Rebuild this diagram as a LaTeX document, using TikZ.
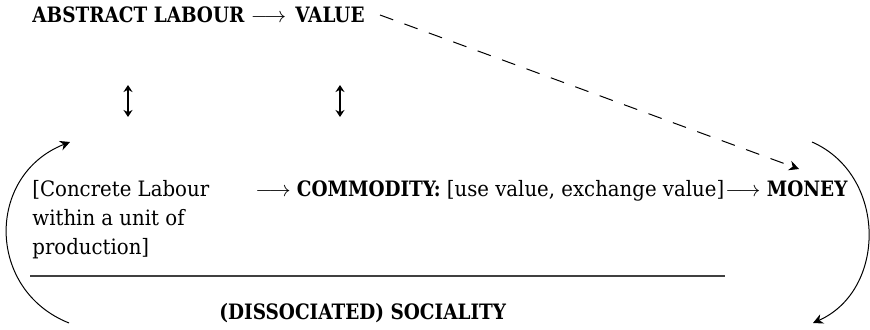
\documentclass[tikz,border=0pt]{standalone}
\usepackage{fontspec}
\setmainfont{DejaVu Serif}[FakeStretch=0.93, BoldFeatures={FakeStretch=0.87}]
\usetikzlibrary{arrows.meta, positioning}
\tikzset{%
	txt/.style={
		inner sep=0pt,
		font=\fontsize{10.6}{14.5}\selectfont
	},
	link/.style={
		-{Stealth[length=5pt,width=5pt]},
		line width=0.5pt
	},
	twoway/.style={
		{Stealth[length=3.5pt,width=4.5pt]}-{Stealth[length=3.5pt,width=4.5pt]},
		line width=0.6pt
	},
}
\begin{document}
\begin{tikzpicture}[x=0.5pt, y=-0.5pt]
			\useasboundingbox (0,0) rectangle (870,330);
			
			% Abstract side
			\node[txt, anchor=base west] (abstract) at (32,23) {\textbf{ABSTRACT LABOUR} $\longrightarrow$};
			\node[txt, anchor=base east] (value) at (365,23) {\textbf{VALUE}};
			
			% Concrete side
			\node[txt, anchor=base west, align=left] (concrete) at (32,255) {[Concrete Labour\\within a unit of\\production]};
			\node[txt, anchor=base west] (commodity) at (255,197) {$\longrightarrow$ \textbf{COMMODITY:} [use value, exchange value]};
			\node[txt, anchor=base east] (money) at (848,197) {$\longrightarrow$ \textbf{MONEY}};
			
			% Sociality
			\draw[line width=0.7pt, black!75] (30,276) -- (725,276);
			\node[txt, anchor=base west] (sociality) at (219,320) {\textbf{(DISSOCIATED) SOCIALITY}};
			
			% Two-way links
			\coordinate (labtop) at (128,85);
			\coordinate (labbot) at (128,117);
			\coordinate (valtop) at (340,85);
			\coordinate (valbot) at (340,117);
			\draw[twoway] (labtop) -- (labbot);
			\draw[twoway] (valtop) -- (valbot);
			
			% Value to money
			\coordinate (dstart) at (380,15);
			\coordinate (dend) at (799,169);
			\draw[link, dash pattern=on 7pt off 6pt] (dstart) -- (dend);
			
			% Circuits
			\coordinate (lbot) at (69,323);
			\coordinate (ltop) at (70,142);
			\draw[link] (lbot) .. controls (-14,290) and (-14,175) .. (ltop);
			\coordinate (rtop) at (812,142);
			\coordinate (rbot) at (813,323);
			\draw[link] (rtop) .. controls (887,175) and (887,290) .. (rbot);
\end{tikzpicture}
\end{document}
